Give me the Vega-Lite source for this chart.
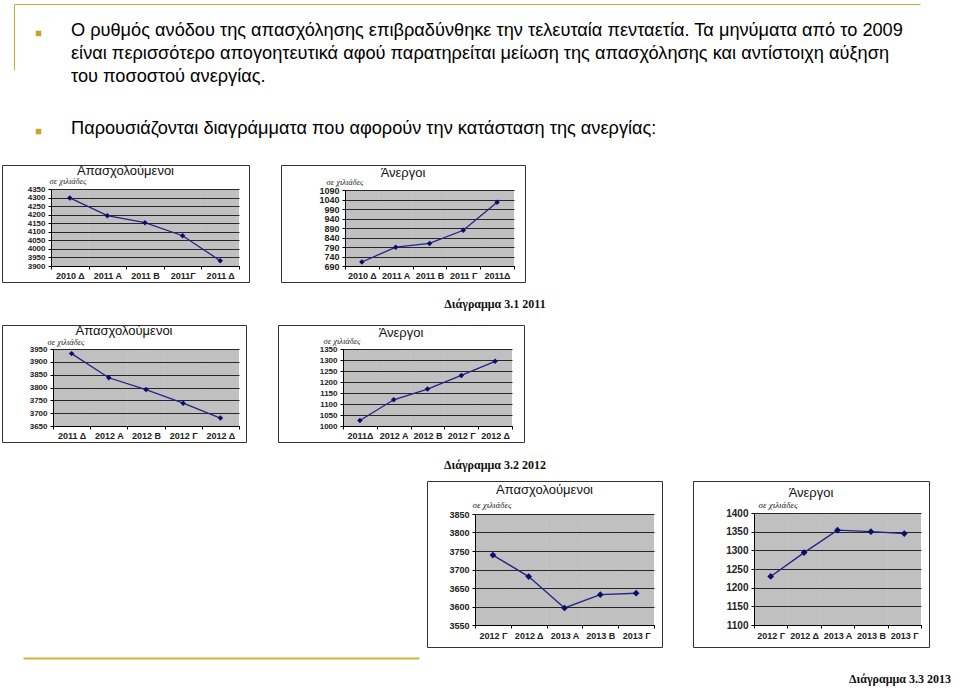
{
  "$schema": "https://vega.github.io/schema/vega-lite/v6.json",
  "padding": 0,
  "background": "white",
  "spacing": 0,
  "datasets": {
    "para": [
      {"para": 1, "t": "Ο ρυθμός ανόδου της απασχόλησης επιβραδύνθηκε την τελευταία πενταετία. Τα μηνύματα από το 2009\nείναι περισσότερο απογοητευτικά αφού παρατηρείται μείωση της απασχόλησης και αντίστοιχη αύξηση\nτου ποσοστού ανεργίας."},
      {"para": 2, "t": "Παρουσιάζονται διαγράμματα που αφορούν την κατάσταση της ανεργίας:"}
    ],
    "e2011": [
      {"q": "2010 Δ", "v": 4298}, {"q": "2011 Α", "v": 4194}, {"q": "2011 Β", "v": 4153}, {"q": "2011Γ", "v": 4077}, {"q": "2011 Δ", "v": 3931}
    ],
    "u2011": [
      {"q": "2010 Δ", "v": 711}, {"q": "2011 Α", "v": 789}, {"q": "2011 Β", "v": 809}, {"q": "2011 Γ", "v": 878}, {"q": "2011Δ", "v": 1025}
    ],
    "e2012": [
      {"q": "2011 Δ", "v": 3932}, {"q": "2012 Α", "v": 3838}, {"q": "2012 Β", "v": 3792}, {"q": "2012 Γ", "v": 3739}, {"q": "2012 Δ", "v": 3681}
    ],
    "u2012": [
      {"q": "2011Δ", "v": 1025}, {"q": "2012 Α", "v": 1119}, {"q": "2012 Β", "v": 1168}, {"q": "2012 Γ", "v": 1230}, {"q": "2012 Δ", "v": 1294}
    ],
    "e2013": [
      {"q": "2012 Γ", "v": 3739}, {"q": "2012 Δ", "v": 3681}, {"q": "2013 Α", "v": 3596}, {"q": "2013 Β", "v": 3632}, {"q": "2013 Γ", "v": 3636}
    ],
    "u2013": [
      {"q": "2012 Γ", "v": 1230}, {"q": "2012 Δ", "v": 1294}, {"q": "2013 Α", "v": 1354}, {"q": "2013 Β", "v": 1350}, {"q": "2013 Γ", "v": 1345}
    ]
  },
  "config": {
    "view": {"stroke": null},
    "font": "Liberation Sans",
    "axis": {
      "labelFont": "Liberation Sans",
      "labelFontWeight": "bold",
      "labelColor": "#222",
      "domainColor": "#000",
      "tickColor": "#000",
      "tickSize": 3,
      "gridColor": "#333",
      "gridOpacity": 1
    },
    "title": {"font": "Liberation Sans", "fontWeight": "normal", "color": "#111", "fontSize": 13, "anchor": "middle", "frame": "group", "baseline": "alphabetic"}
  },
  "vconcat": [
    {"width": 960, "height": 4, "data": {"values": []}, "mark": "point"},
    {
      "hconcat": [
        {"width": 14, "height": 140, "data": {"values": []}, "mark": "point"},
        {
          "width": 906,
          "height": 140,
          "data": {"name": "para"},
          "layer": [
            {
              "data": {"values": []},
              "mark": {"type": "point", "opacity": 0},
              "encoding": {
                "x": {"field": "a", "type": "quantitative", "scale": {"domain": [0, 1]}, "axis": {"orient": "top", "labels": false, "ticks": false, "grid": false, "title": null, "domainColor": "#cfa934", "domainWidth": 1}},
                "y": {"field": "b", "type": "quantitative", "scale": {"domain": [0, 1], "range": [66, 0]}, "axis": {"orient": "left", "labels": false, "ticks": false, "grid": false, "title": null, "domainColor": "#cfa934", "domainWidth": 1}}
              }
            },
            {
              "mark": {"type": "text", "align": "left", "baseline": "alphabetic", "fontSize": 18.2, "font": "Liberation Sans", "color": "#000", "lineBreak": "\n", "lineHeight": 23},
              "encoding": {
                "text": {"field": "t"},
                "x": {"value": 57},
                "y": {"field": "para", "type": "ordinal", "scale": {"type": "point", "padding": 0, "range": [32, 130]}, "axis": null}
              }
            },
            {
              "mark": {"type": "square", "color": "#c9a227", "size": 30, "opacity": 1, "yOffset": -2.5},
              "encoding": {
                "x": {"value": 24.5},
                "y": {"field": "para", "type": "ordinal", "scale": {"type": "point", "padding": 0, "range": [32, 130]}, "axis": null}
              }
            }
          ],
          "resolve": {"scale": {"y": "independent"}, "axis": {"y": "independent"}}
        }
      ],
      "spacing": 0,
      "bounds": "flush"
    },
    {"width": 1, "height": 20, "data": {"values": []}, "mark": "point"},
    {
      "hconcat": [
        {"width": 2, "height": 117, "data": {"values": []}, "mark": "point"},
        {
          "width": 247, "height": 117,
          "data": {"name": "e2011"},
          "view": {"fill": "white", "stroke": "#333", "strokeWidth": 1},
          "title": {"text": "Απασχολούμενοι", "offset": -13},
          "encoding": {
            "x": {"field": "q", "type": "ordinal", "sort": null, "bandPosition": 0.5, "scale": {"type": "band", "paddingInner": 0, "paddingOuter": 0, "range": [49, 237]},
                  "axis": {"title": null, "labelAngle": 0, "tickBand": "extent", "labelFontSize": 9, "labelOverlap": false, "labelPadding": 2, "offset": -16}},
            "y": {"field": "v", "type": "quantitative", "scale": {"domain": [3900, 4350], "nice": false, "zero": false, "range": [101, 24]},
                  "axis": {"values": [3900, 3950, 4000, 4050, 4100, 4150, 4200, 4250, 4300, 4350], "format": "d", "grid": true, "labelFontSize": 8, "labelPadding": 3, "offset": -49,
                           "title": "σε χιλιάδες", "titleAngle": 0, "titleAlign": "left", "titleBaseline": "alphabetic", "titleX": -2, "titleY": 18.5,
                           "titleFont": "Liberation Serif", "titleFontStyle": "italic", "titleFontWeight": "normal", "titleFontSize": 8.5, "titleColor": "#222"}}
          },
          "layer": [
            {"mark": {"type": "rect", "fill": "#000", "fillOpacity": 0.247}, "encoding": {"x": {"field": "q", "type": "ordinal", "sort": null}, "y": {"datum": 3900, "type": "quantitative"}, "y2": {"datum": 4350}}},
            {"mark": {"type": "line", "color": "#23238a", "strokeWidth": 1.3}},
            {"mark": {"type": "point", "shape": "diamond", "filled": true, "color": "#0b0b70", "size": 30, "opacity": 1}}
          ]
        },
        {"width": 32, "height": 117, "data": {"values": []}, "mark": "point"},
        {
          "width": 244, "height": 117,
          "data": {"name": "u2011"},
          "view": {"fill": "white", "stroke": "#333", "strokeWidth": 1},
          "title": {"text": "Άνεργοι", "offset": -14.5},
          "encoding": {
            "x": {"field": "q", "type": "ordinal", "sort": null, "bandPosition": 0.5, "scale": {"type": "band", "paddingInner": 0, "paddingOuter": 0, "range": [64, 233]},
                  "axis": {"title": null, "labelAngle": 0, "tickBand": "extent", "labelFontSize": 9, "labelOverlap": false, "labelPadding": 2, "offset": -16}},
            "y": {"field": "v", "type": "quantitative", "scale": {"domain": [690, 1090], "nice": false, "zero": false, "range": [101, 25]},
                  "axis": {"values": [690, 740, 790, 840, 890, 940, 990, 1040, 1090], "format": "d", "grid": true, "labelFontSize": 9, "labelPadding": 3, "offset": -64,
                           "title": "σε χιλιάδες", "titleAngle": 0, "titleAlign": "left", "titleBaseline": "alphabetic", "titleX": -19, "titleY": 19,
                           "titleFont": "Liberation Serif", "titleFontStyle": "italic", "titleFontWeight": "normal", "titleFontSize": 8.5, "titleColor": "#222"}}
          },
          "layer": [
            {"mark": {"type": "rect", "fill": "#000", "fillOpacity": 0.247}, "encoding": {"x": {"field": "q", "type": "ordinal", "sort": null}, "y": {"datum": 690, "type": "quantitative"}, "y2": {"datum": 1090}}},
            {"mark": {"type": "line", "color": "#23238a", "strokeWidth": 1.3}},
            {"mark": {"type": "point", "shape": "diamond", "filled": true, "color": "#0b0b70", "size": 30, "opacity": 1}}
          ]
        }
      ],
      "spacing": 0,
      "bounds": "flush"
    },
    {
      "hconcat": [
        {"width": 430, "height": 41, "data": {"values": []}, "mark": "point"},
        {"width": 130, "height": 41, "data": {"values": [{"c": "Διάγραμμα 3.1 2011"}]},
         "mark": {"type": "text", "font": "Liberation Serif", "fontWeight": "bold", "fontSize": 12, "color": "#111"},
         "encoding": {"text": {"field": "c"}}}
      ],
      "spacing": 0,
      "bounds": "flush"
    },
    {
      "hconcat": [
        {"width": 2, "height": 117, "data": {"values": []}, "mark": "point"},
        {
          "width": 244, "height": 117,
          "data": {"name": "e2012"},
          "view": {"fill": "white", "stroke": "#333", "strokeWidth": 1},
          "title": {"text": "Απασχολούμενοι", "offset": -12.5},
          "encoding": {
            "x": {"field": "q", "type": "ordinal", "sort": null, "bandPosition": 0.5, "scale": {"type": "band", "paddingInner": 0, "paddingOuter": 0, "range": [51, 237]},
                  "axis": {"title": null, "labelAngle": 0, "tickBand": "extent", "labelFontSize": 9, "labelOverlap": false, "labelPadding": 2, "offset": -16}},
            "y": {"field": "v", "type": "quantitative", "scale": {"domain": [3650, 3950], "nice": false, "zero": false, "range": [101, 24]},
                  "axis": {"values": [3650, 3700, 3750, 3800, 3850, 3900, 3950], "format": "d", "grid": true, "labelFontSize": 8, "labelPadding": 3, "offset": -51,
                           "title": "σε χιλιάδες", "titleAngle": 0, "titleAlign": "left", "titleBaseline": "alphabetic", "titleX": -6, "titleY": 19,
                           "titleFont": "Liberation Serif", "titleFontStyle": "italic", "titleFontWeight": "normal", "titleFontSize": 8.5, "titleColor": "#222"}}
          },
          "layer": [
            {"mark": {"type": "rect", "fill": "#000", "fillOpacity": 0.247}, "encoding": {"x": {"field": "q", "type": "ordinal", "sort": null}, "y": {"datum": 3650, "type": "quantitative"}, "y2": {"datum": 3950}}},
            {"mark": {"type": "line", "color": "#23238a", "strokeWidth": 1.3}},
            {"mark": {"type": "point", "shape": "diamond", "filled": true, "color": "#0b0b70", "size": 30, "opacity": 1}}
          ]
        },
        {"width": 32, "height": 117, "data": {"values": []}, "mark": "point"},
        {
          "width": 246, "height": 117,
          "data": {"name": "u2012"},
          "view": {"fill": "white", "stroke": "#333", "strokeWidth": 1},
          "title": {"text": "Άνεργοι", "offset": -14.5},
          "encoding": {
            "x": {"field": "q", "type": "ordinal", "sort": null, "bandPosition": 0.5, "scale": {"type": "band", "paddingInner": 0, "paddingOuter": 0, "range": [65, 234]},
                  "axis": {"title": null, "labelAngle": 0, "tickBand": "extent", "labelFontSize": 9, "labelOverlap": false, "labelPadding": 2, "offset": -16}},
            "y": {"field": "v", "type": "quantitative", "scale": {"domain": [1000, 1350], "nice": false, "zero": false, "range": [101, 24]},
                  "axis": {"values": [1000, 1050, 1100, 1150, 1200, 1250, 1300, 1350], "format": "d", "grid": true, "labelFontSize": 8, "labelPadding": 3, "offset": -65,
                           "title": "σε χιλιάδες", "titleAngle": 0, "titleAlign": "left", "titleBaseline": "alphabetic", "titleX": -20, "titleY": 18.5,
                           "titleFont": "Liberation Serif", "titleFontStyle": "italic", "titleFontWeight": "normal", "titleFontSize": 8.5, "titleColor": "#222"}}
          },
          "layer": [
            {"mark": {"type": "rect", "fill": "#000", "fillOpacity": 0.247}, "encoding": {"x": {"field": "q", "type": "ordinal", "sort": null}, "y": {"datum": 1000, "type": "quantitative"}, "y2": {"datum": 1350}}},
            {"mark": {"type": "line", "color": "#23238a", "strokeWidth": 1.3}},
            {"mark": {"type": "point", "shape": "diamond", "filled": true, "color": "#0b0b70", "size": 30, "opacity": 1}}
          ]
        }
      ],
      "spacing": 0,
      "bounds": "flush"
    },
    {
      "hconcat": [
        {"width": 430, "height": 37, "data": {"values": []}, "mark": "point"},
        {"width": 130, "height": 37, "data": {"values": [{"c": "Διάγραμμα 3.2 2012"}]},
         "mark": {"type": "text", "font": "Liberation Serif", "fontWeight": "bold", "fontSize": 12, "color": "#111", "dy": 3.5},
         "encoding": {"text": {"field": "c"}}}
      ],
      "spacing": 0,
      "bounds": "flush"
    },
    {
      "hconcat": [
        {"width": 23, "height": 177, "data": {"values": []}, "mark": "point"},
        {"width": 396, "height": 177, "data": {"values": []}, "mark": {"type": "point", "opacity": 0},
         "encoding": {"x": {"field": "a", "type": "quantitative", "scale": {"domain": [0, 1]}, "axis": {"orient": "bottom", "labels": false, "ticks": false, "grid": false, "title": null, "domainColor": "#d6b43a", "domainWidth": 2}}}},
        {"width": 8, "height": 177, "data": {"values": []}, "mark": "point"},
        {
          "width": 235, "height": 166,
          "data": {"name": "e2013"},
          "view": {"fill": "white", "stroke": "#333", "strokeWidth": 1},
          "title": {"text": "Απασχολούμενοι", "offset": -16},
          "encoding": {
            "x": {"field": "q", "type": "ordinal", "sort": null, "bandPosition": 0.5, "scale": {"type": "band", "paddingInner": 0, "paddingOuter": 0, "range": [48, 227]},
                  "axis": {"title": null, "labelAngle": 0, "tickBand": "extent", "labelFontSize": 9, "labelOverlap": false, "labelPadding": 3, "offset": -22}},
            "y": {"field": "v", "type": "quantitative", "scale": {"domain": [3550, 3850], "nice": false, "zero": false, "range": [144, 33]},
                  "axis": {"values": [3550, 3600, 3650, 3700, 3750, 3800, 3850], "format": "d", "grid": true, "labelFontSize": 9, "labelPadding": 3, "offset": -48,
                           "title": "σε χιλιάδες", "titleAngle": 0, "titleAlign": "left", "titleBaseline": "alphabetic", "titleX": -3, "titleY": 26,
                           "titleFont": "Liberation Serif", "titleFontStyle": "italic", "titleFontWeight": "normal", "titleFontSize": 9, "titleColor": "#222"}}
          },
          "layer": [
            {"mark": {"type": "rect", "fill": "#000", "fillOpacity": 0.247}, "encoding": {"x": {"field": "q", "type": "ordinal", "sort": null}, "y": {"datum": 3550, "type": "quantitative"}, "y2": {"datum": 3850}}},
            {"mark": {"type": "line", "color": "#23238a", "strokeWidth": 1.4}},
            {"mark": {"type": "point", "shape": "diamond", "filled": true, "color": "#0b0b70", "size": 45, "opacity": 1}}
          ]
        },
        {"width": 31, "height": 166, "data": {"values": []}, "mark": "point"},
        {
          "width": 236, "height": 166,
          "data": {"name": "u2013"},
          "view": {"fill": "white", "stroke": "#333", "strokeWidth": 1},
          "title": {"text": "Άνεργοι", "offset": -19},
          "encoding": {
            "x": {"field": "q", "type": "ordinal", "sort": null, "bandPosition": 0.5, "scale": {"type": "band", "paddingInner": 0, "paddingOuter": 0, "range": [61, 228]},
                  "axis": {"title": null, "labelAngle": 0, "tickBand": "extent", "labelFontSize": 9, "labelOverlap": false, "labelPadding": 3, "offset": -22}},
            "y": {"field": "v", "type": "quantitative", "scale": {"domain": [1100, 1400], "nice": false, "zero": false, "range": [144, 32]},
                  "axis": {"values": [1100, 1150, 1200, 1250, 1300, 1350, 1400], "format": "d", "grid": true, "labelFontSize": 10, "labelPadding": 3, "offset": -61,
                           "title": "σε χιλιάδες", "titleAngle": 0, "titleAlign": "left", "titleBaseline": "alphabetic", "titleX": 4, "titleY": 26,
                           "titleFont": "Liberation Serif", "titleFontStyle": "italic", "titleFontWeight": "normal", "titleFontSize": 9, "titleColor": "#222"}}
          },
          "layer": [
            {"mark": {"type": "rect", "fill": "#000", "fillOpacity": 0.247}, "encoding": {"x": {"field": "q", "type": "ordinal", "sort": null}, "y": {"datum": 1100, "type": "quantitative"}, "y2": {"datum": 1400}}},
            {"mark": {"type": "line", "color": "#23238a", "strokeWidth": 1.4}},
            {"mark": {"type": "point", "shape": "diamond", "filled": true, "color": "#0b0b70", "size": 45, "opacity": 1}}
          ]
        }
      ],
      "spacing": 0,
      "bounds": "flush"
    },
    {
      "hconcat": [
        {"width": 840, "height": 42, "data": {"values": []}, "mark": "point"},
        {"width": 120, "height": 42, "data": {"values": [{"c": "Διάγραμμα 3.3 2013"}]},
         "mark": {"type": "text", "font": "Liberation Serif", "fontWeight": "bold", "fontSize": 12, "color": "#111"},
         "encoding": {"text": {"field": "c"}}}
      ],
      "spacing": 0,
      "bounds": "flush"
    }
  ]
}
